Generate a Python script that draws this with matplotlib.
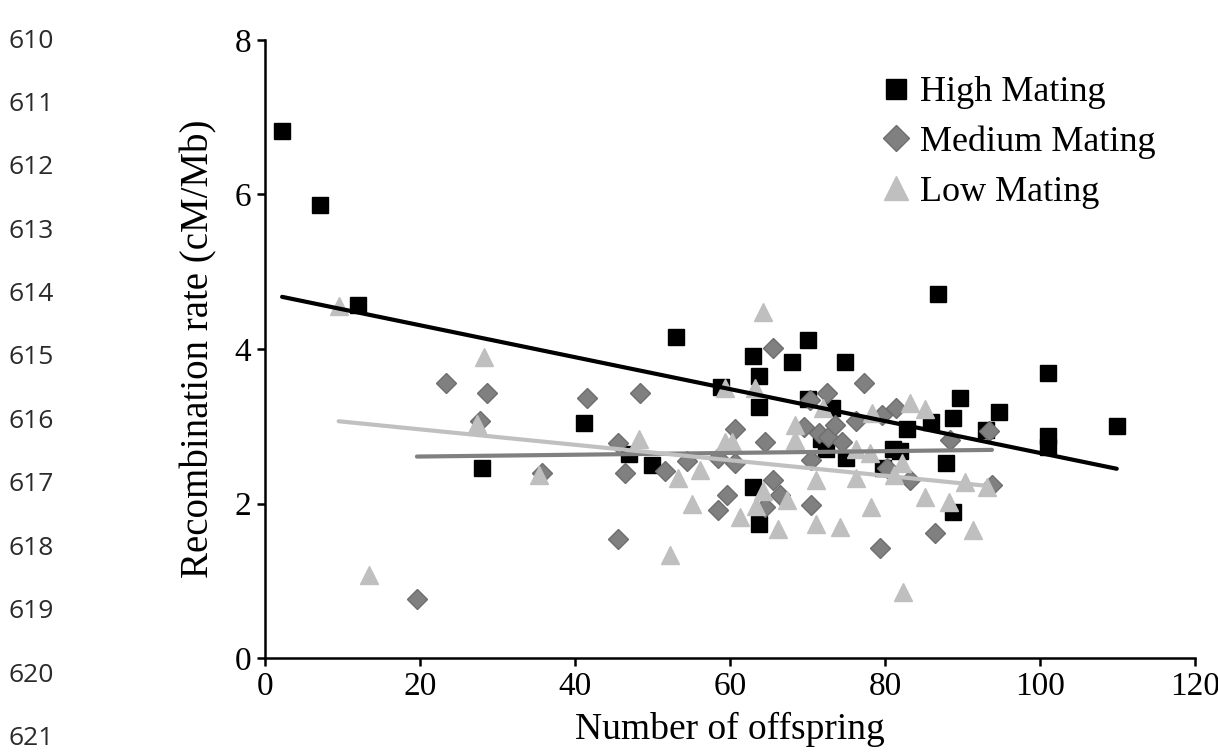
import numpy as np
import matplotlib
matplotlib.use("Agg")
import matplotlib.pyplot as plt

plt.rcParams['font.family'] = ['Liberation Serif', 'DejaVu Serif']

# High mating (black squares)
high_x = [2.2, 7.1, 12, 28, 41.2, 47, 49.9, 53, 58.9, 63, 63.8, 63.8, 63, 63.8,
          68, 70, 70, 73.2, 74.8, 71.8, 72.4, 75, 79.8, 81, 82, 82.8, 86, 86.8,
          87.9, 88.8, 88.8, 89.7, 93, 94.7, 101, 101, 101, 109.9]
high_y = [6.82, 5.86, 4.57, 2.46, 3.04, 2.64, 2.50, 4.15, 3.51, 3.91, 3.65, 3.25, 2.21, 1.74,
          3.83, 4.12, 3.35, 3.24, 3.83, 2.84, 2.70, 2.59, 2.46, 2.70, 2.68, 2.97, 3.06, 4.71,
          2.52, 3.11, 1.89, 3.37, 2.95, 3.18, 3.69, 2.88, 2.73, 3.0]

# Medium mating (grey diamonds)
med_x = [19.6, 23.4, 27.7, 28.6, 35.7, 41.5, 45.6, 45.6, 46.5, 48.4, 51.6, 54.4, 58.5, 58.5,
         59.6, 60.6, 60.6, 64.5, 64.5, 65.5, 65.5, 66.4, 69.5, 70.3, 70.4, 70.4, 71.5, 72.5,
         72.6, 73.5, 74.5, 76.3, 77.3, 79.4, 79.6, 80.2, 81.4, 83.2, 86.5, 88.4, 93.4, 93.8]
med_y = [0.76, 3.56, 3.07, 3.43, 2.39, 3.36, 2.78, 1.54, 2.40, 3.43, 2.42, 2.55, 2.59, 1.91,
         2.11, 2.96, 2.52, 2.79, 1.96, 4.01, 2.31, 2.11, 2.99, 3.34, 2.56, 1.98, 2.91, 3.43,
         2.86, 3.02, 2.79, 3.07, 3.56, 1.42, 3.15, 2.46, 3.23, 2.31, 1.62, 2.82, 2.94, 2.24]

# Low mating (light grey triangles)
low_x = [9.5, 13.4, 27.3, 28.3, 35.3, 48.2, 52.3, 53.3, 55.1, 56.1, 59.3, 59.3, 60.3, 61.3,
         63.2, 63.3, 64.2, 64.2, 66.2, 67.3, 68.4, 68.4, 71.1, 71.1, 72.0, 74.2, 76.3, 76.3,
         78.1, 78.2, 78.3, 81.2, 82.2, 82.3, 83.2, 85.1, 85.1, 88.2, 90.3, 91.3, 93.1]
low_y = [4.56, 1.07, 3.03, 3.90, 2.37, 2.84, 1.33, 2.33, 2.00, 2.43, 3.49, 2.79, 2.79, 1.83,
         3.49, 1.97, 4.48, 2.16, 1.67, 2.05, 3.02, 2.82, 2.31, 1.74, 3.24, 1.70, 2.71, 2.33,
         2.65, 1.95, 3.17, 2.37, 2.52, 0.86, 3.30, 3.22, 2.09, 2.02, 2.28, 1.66, 2.21]

line_numbers = list(range(610, 622))

fig = plt.figure(figsize=(12.18, 7.56), dpi=100)
ax = fig.add_axes([0.2176, 0.1296, 0.7635, 0.8175])

ax.plot(high_x, high_y, ls='none', marker='s', ms=11.5, color='black', label='High Mating')
ax.plot(med_x, med_y, ls='none', marker='D', ms=10, mfc='#808080', mec='#6e6e6e', mew=1,
        label='Medium Mating')
ax.plot(low_x, low_y, ls='none', marker='^', ms=13.5, color='#bfbfbf', label='Low Mating')

# linear trendlines over each series' range
for xs, ys, c in [(high_x, high_y, 'black'), (med_x, med_y, '#808080'), (low_x, low_y, '#c0c0c0')]:
    m, b = np.polyfit(xs, ys, 1)
    xx = np.array([min(xs), max(xs)])
    ax.plot(xx, m * xx + b, color=c, lw=3, solid_capstyle='round')

ax.set_xlim(0, 120)
ax.set_ylim(0, 8)
ax.set_xticks(range(0, 121, 20))
ax.set_yticks(range(0, 9, 2))
for s in ['top', 'right']:
    ax.spines[s].set_visible(False)
for s in ['left', 'bottom']:
    ax.spines[s].set_linewidth(1.8)
ax.tick_params(width=1.8, length=6, labelsize=24, direction='out', pad=4)
ax.set_xlabel('Number of offspring', fontsize=27, labelpad=7)
ax.set_ylabel('Recombination rate (cM/Mb)', fontsize=28, labelpad=12)

ax.legend(loc='upper left', bbox_to_anchor=(0.64, 0.965), frameon=False, fontsize=26,
          handletextpad=0.05, labelspacing=0.45, borderaxespad=0, handlelength=1.2,
          markerscale=1.3)

# manuscript line numbers in the margin
for i, n in enumerate(line_numbers):
    fig.text(0.007, 1 - (41 + i * 63.4) / 756, str(n), fontsize=19, family='Open Sans',
             color='#2a2a2a', va='center', ha='left')

fig.savefig('out.png', dpi=100)
